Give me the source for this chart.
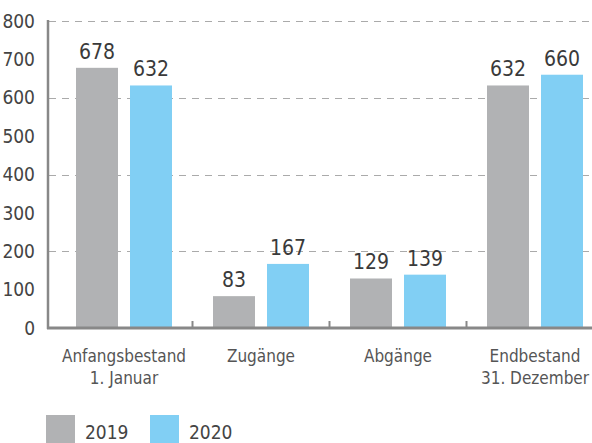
<!DOCTYPE html>
<html>
<head>
<meta charset="utf-8">
<script src="https://cdn.jsdelivr.net/npm/d3@7"></script>
<style>
  body { margin: 0; background: #fff; }
  svg { display: block; font-family: 'DejaVu Sans Condensed', 'DejaVu Sans', sans-serif; font-stretch: condensed; }
</style>
</head>
<body>
<div id="chart"></div>
<script>
const categories = [['Anfangsbestand', '1. Januar'], ['Zugänge'], ['Abgänge'], ['Endbestand', '31. Dezember']]
const series = ['2019', '2020']
const values2019 = [678, 83, 129, 632]
const values2020 = [632, 167, 139, 660]
const yTicks = [0, 100, 200, 300, 400, 500, 600, 700, 800]
const gridTicks = [200, 400, 600, 800]
const colors = ['#b1b2b4', '#81cff4']

const width = 592
const height = 443

const svg = d3
  .select('#chart')
  .append('svg')
  .attr('width', width)
  .attr('height', height)

const y = d3
  .scaleLinear()
  .domain([0, 800])
  .range([328, 21])

const x = d3
  .scaleBand()
  .domain(d3.range(categories.length))
  .range([55.5, 603.5])

// two bars of 42px with a 12px gap
const inner = d3
  .scaleBand()
  .domain(series)
  .range([20.5, 116.5])
  .paddingInner(12 / 54)

// dashed grid
svg
  .selectAll('.grid')
  .data(gridTicks)
  .enter()
  .append('line')
  .attr('class', 'grid')
  .attr('x1', 49)
  .attr('x2', width)
  .attr('y1', d => Math.round(y(d)) + 0.5)
  .attr('y2', d => Math.round(y(d)) + 0.5)
  .style('stroke', '#aaa')
  .style('stroke-width', 1.2)
  .style('stroke-dasharray', '7,6')

// y labels
svg
  .selectAll('.ytick')
  .data(yTicks)
  .enter()
  .append('text')
  .attr('class', 'ytick')
  .attr('x', 35)
  .attr('y', d => y(d))
  .attr('dy', '0.35em')
  .attr('text-anchor', 'end')
  .style('font-size', '19px')
  .style('fill', '#444')
  .text(d => d)

// bars
const rows = categories.map((c, i) => [values2019[i], values2020[i]])
const groups = svg
  .selectAll('.group')
  .data(rows)
  .enter()
  .append('g')
  .attr('class', 'group')
  .attr('transform', (d, i) => `translate(${x(i)},0)`)

groups
  .selectAll('rect')
  .data(d => d.map((v, j) => ({ key: series[j], value: v, j })))
  .enter()
  .append('rect')
  .attr('x', d => inner(d.key))
  .attr('width', inner.bandwidth())
  .attr('y', d => y(d.value))
  .attr('height', d => y(0) - y(d.value))
  .attr('fill', d => colors[d.j])

groups
  .selectAll('.value')
  .data(d => d.map((v, j) => ({ key: series[j], value: v })))
  .enter()
  .append('text')
  .attr('class', 'value')
  .attr('x', d => inner(d.key) + inner.bandwidth() / 2)
  .attr('y', d => y(d.value) - 9)
  .attr('text-anchor', 'middle')
  .style('font-size', '21px')
  .style('fill', '#3a3a3a')
  .text(d => d.value)

// axes
svg
  .append('line')
  .attr('x1', 48)
  .attr('x2', 48)
  .attr('y1', 20)
  .attr('y2', 329)
  .style('stroke', '#888')
  .style('stroke-width', 2.5)

svg
  .append('line')
  .attr('x1', 47)
  .attr('x2', width)
  .attr('y1', 328)
  .attr('y2', 328)
  .style('stroke', '#888')
  .style('stroke-width', 3)

svg
  .selectAll('.xtick')
  .data(d3.range(1, categories.length + 1))
  .enter()
  .append('line')
  .attr('class', 'xtick')
  .attr('x1', d => x(d - 1) + x.bandwidth())
  .attr('x2', d => x(d - 1) + x.bandwidth())
  .attr('y1', 321)
  .attr('y2', 328)
  .style('stroke', '#888')
  .style('stroke-width', 2)

// category labels
const catLabels = svg
  .selectAll('.cat')
  .data(categories)
  .enter()
  .append('text')
  .attr('class', 'cat')
  .attr('text-anchor', 'middle')
  .style('font-size', '17px')
  .style('fill', '#555')

catLabels
  .selectAll('tspan')
  .data((d, i) => d.map(line => ({ line, i })))
  .enter()
  .append('tspan')
  .attr('x', d => x(d.i) + x.bandwidth() / 2)
  .attr('y', (d, k) => 362 + k * 22)
  .text(d => d.line)

// legend
const legend = svg
  .selectAll('.legend')
  .data(series)
  .enter()
  .append('g')
  .attr('class', 'legend')
  .attr('transform', (d, i) => `translate(${46 + i * 104},415)`)

legend
  .append('rect')
  .attr('width', 29)
  .attr('height', 29)
  .attr('fill', (d, i) => colors[i])

legend
  .append('text')
  .attr('x', 39)
  .attr('y', 24)
  .style('font-size', '19px')
  .style('fill', '#444')
  .text(d => d)
</script>
</body>
</html>
